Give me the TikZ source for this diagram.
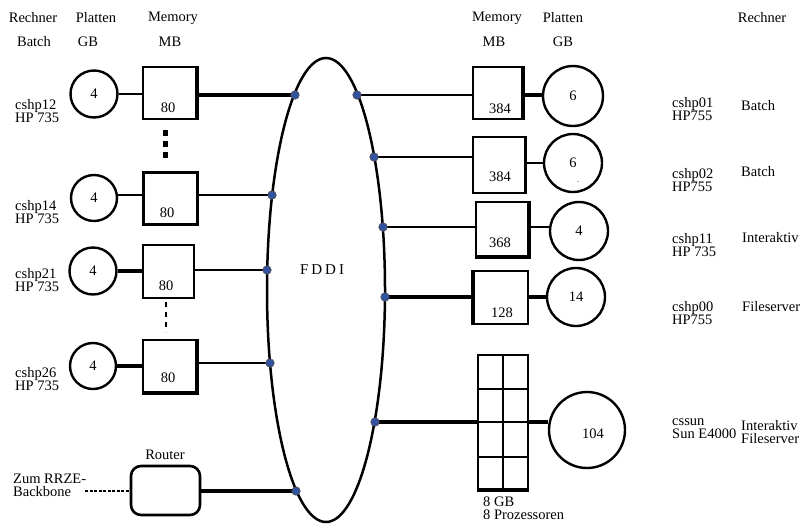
\documentclass[tikz,border=0pt]{standalone}
\usepackage{fontspec}
\setmainfont{Liberation Serif}
\usetikzlibrary{shapes.geometric}
\definecolor{dotblue}{HTML}{3352A0}
\begin{document}
\begin{tikzpicture}[x=1pt,y=-1pt,
  txt/.style={font=\fontsize{14.5}{13}\selectfont, inner sep=0pt, align=left},
  disk/.style={circle, draw, line width=2.4pt, inner sep=0pt, font=\fontsize{14.5}{13}\selectfont},
  mem/.style={rectangle, draw, line width=1.8pt, inner sep=0pt},
  thinl/.style={line width=2.2pt},
  thickl/.style={line width=4.8pt},
  edge/.style={line width=4pt},
  tap/.style={circle, fill=dotblue, draw=black!70, line width=0.6pt, inner sep=0pt, minimum size=8.5pt},
]
\useasboundingbox (0,0) rectangle (810,530);

% headers
\node[txt] (h1) at (33,18) {Rechner};
\node[txt] (h2) at (34,42) {Batch};
\node[txt] (h3) at (96,18) {Platten};
\node[txt] (h4) at (88,42) {GB};
\node[txt] (h5) at (173,18) {Memory};
\node[txt] (h6) at (170,42) {MB};
\node[txt] (h7) at (497,18) {Memory};
\node[txt] (h8) at (494,42) {MB};
\node[txt] (h9) at (563,18) {Platten};
\node[txt] (h10) at (563,42) {GB};
\node[txt] (h11) at (762,18) {Rechner};

% FDDI ring
\node[ellipse, draw, line width=2.5pt, inner sep=0pt, minimum width=118pt, minimum height=464pt] (fddi) at (326,290) {};
\node[font=\fontsize{15}{15}\selectfont, inner sep=0pt] (ftxt) at (322,270) {F\hspace{3pt}D\hspace{3pt}D\hspace{3pt}I};

\coordinate (f1) at (295,95);
\coordinate (f2) at (272,195);
\coordinate (f3) at (267,270);
\coordinate (f4) at (270,363);
\coordinate (f5) at (296,491);
\coordinate (f6) at (357,95);
\coordinate (f7) at (374,157);
\coordinate (f8) at (383,227);
\coordinate (f9) at (385,297);
\coordinate (f10) at (375,422);

% left side
\node[disk, minimum size=47pt] (c1) at (94,94) {4};
\node[mem, minimum width=53pt, minimum height=52pt] (b1) at (169.5,93) {};
\draw[edge] (b1.north east) -- (b1.south east);
\node[txt] (t1) at (168,108) {80};
\draw[thinl] (c1.east) -- (c1.east -| b1.west);
\draw[thickl] (b1.east |- f1) -- (f1);
\node[txt, anchor=west] (l1) at (15,111) {cshp12\\HP 735};

\node[disk, minimum size=46pt] (c2) at (94,198) {4};
\node[mem, line width=3.8pt, minimum width=54pt, minimum height=52pt] (b2) at (170.5,198.5) {};
\node[txt] (t2) at (167,213) {80};
\draw[thinl] (c2.east |- 0,195) -- (b2.west |- 0,195);
\draw[thinl] (b2.east |- f2) -- (f2);
\node[txt, anchor=west] (l2) at (15,212) {cshp14\\HP 735};

\node[disk, minimum size=47pt] (c3) at (93,271) {4};
\node[mem, minimum width=51pt, minimum height=53pt] (b3) at (168.5,271.5) {};
\node[txt] (t3) at (166,286) {80};
\draw[thickl] (c3.east) -- (c3.east -| b3.west);
\draw[thinl] (b3.east |- f3) -- (f3);
\node[txt, anchor=west] (l3) at (15,280) {cshp21\\HP 735};

\node[disk, minimum size=46pt] (c4) at (93,366) {4};
\node[mem, minimum width=53pt, minimum height=52pt] (b4) at (169.5,366) {};
\draw[edge] (b4.north east) -- (b4.south east) -- (b4.south west);
\node[txt] (t4) at (168,378) {80};
\draw[thickl] (c4.east) -- (c4.east -| b4.west);
\draw[thinl] (b4.east |- f4) -- (f4);
\node[txt, anchor=west] (l4) at (15,379) {cshp26\\HP 735};

% dotted connections between boxes
\draw[line width=5pt, dash pattern=on 6pt off 5pt] (165,130) coordinate (d1a) -- (165,162) coordinate (d1b);
\draw[line width=2.2pt, dash pattern=on 5pt off 5pt] (166,302) coordinate (d2a) -- (166,332) coordinate (d2b);

% router
\node[txt] (rlab) at (165,455) {Router};
\node[rectangle, draw, rounded corners=10pt, line width=2.6pt, minimum width=69pt, minimum height=49pt, inner sep=0pt] (router) at (165.5,490.5) {};
\draw[thickl] (router.east |- f5) -- (f5);
\node[txt, anchor=west] (rrze) at (13,485) {Zum RRZE-\\Backbone};
\coordinate (bb) at (85,491);
\draw[line width=2.6pt, dash pattern=on 3pt off 1.5pt] (bb) -- (router.west |- bb);

% right side
\node[mem, minimum width=49pt, minimum height=52pt] (r1) at (497.5,93) {};
\draw[edge] (r1.north east) -- (r1.south east);
\node[txt] (s1) at (500,109) {384};
\node[disk, minimum size=60pt] (d1) at (573,96) {6};
\draw[thinl] (f6) -- (r1.west |- f6);
\draw[thickl] (r1.east |- f6) -- (d1.west |- f6);
\node[txt, anchor=west] (m1) at (672,109) {cshp01\\HP755};
\node[txt, anchor=west] (n1) at (741,106) {Batch};

\node[mem, minimum width=52pt, minimum height=56pt] (r2) at (499,165) {};
\draw[line width=3pt] (r2.north east) -- (r2.south east);
\node[txt] (s2) at (500,177) {384};
\node[disk, minimum size=58pt] (d2) at (573,163) {6};
\node[font=\fontsize{8}{8}\selectfont, inner sep=0pt] (dot2) at (578,182) {.};
\draw[thinl] (f7) -- (r2.west |- f7);
\draw[thinl] (r2.east |- d2) -- (d2.west);
\node[txt, anchor=west] (m2) at (672,180) {cshp02\\HP755};
\node[txt, anchor=west] (n2) at (741,172) {Batch};

\node[mem, minimum width=52pt, minimum height=54pt] (r3) at (502,229) {};
\draw[edge] (r3.north east) -- (r3.south east) -- (r3.south west);
\node[txt] (s3) at (500,243) {368};
\node[disk, minimum size=58pt] (d3) at (579,231) {4};
\draw[thinl] (f8) -- (r3.west |- f8);
\draw[thinl] (r3.east |- f8) -- (d3.west |- f8);
\node[txt, anchor=west] (m3) at (672,245) {cshp11\\HP 735};
\node[txt, anchor=west] (n3) at (742,238) {Interaktiv};

\node[mem, minimum width=54pt, minimum height=53pt] (r4) at (501,297.5) {};
\draw[edge] (r4.north west) -- (r4.south west);
\node[txt] (s4) at (502,313) {128};
\node[disk, minimum size=58pt] (d4) at (576,297) {14};
\draw[thickl] (f9) -- (r4.west |- f9);
\draw[thickl] (r4.east |- f9) -- (d4.west |- f9);
\node[txt, anchor=west] (m4) at (672,313) {cshp00\\HP755};
\node[txt, anchor=west] (n4) at (742,307) {Fileserver};

% sun rack
\node[mem, minimum width=50pt, minimum height=134pt] (rack) at (503,422) {};
\draw[line width=2.2pt] (rack.north) -- (rack.south);
\draw[line width=2.2pt] (rack.west |- 0,389) -- (rack.east |- 0,389);
\draw[line width=2.2pt] (rack.west |- 0,422) -- (rack.east |- 0,422);
\draw[line width=2.2pt] (rack.west |- 0,457) -- (rack.east |- 0,457);
\draw[line width=3.5pt] (rack.south west) -- (rack.south east);
\node[disk, minimum size=76pt] (d5) at (587,430) {};
\node[txt] (s5) at (593,434) {104};
\draw[thickl] (f10) -- (rack.west |- f10);
\draw[thickl] (rack.east |- f10) -- (d5.west |- f10);
\node[txt, anchor=west] (gb) at (483,508) {8 GB\\8 Prozessoren};
\node[txt, anchor=west] (m5) at (672,429) {cssun\\Sun E4000};
\node[txt, anchor=west] (n5) at (741,432) {Interaktiv\\Fileserver};

% taps on the ring
\foreach \p in {f1,f2,f3,f4,f5,f6,f7,f8,f9,f10}
  \node[tap] at (\p) {};
\end{tikzpicture}
\end{document}
